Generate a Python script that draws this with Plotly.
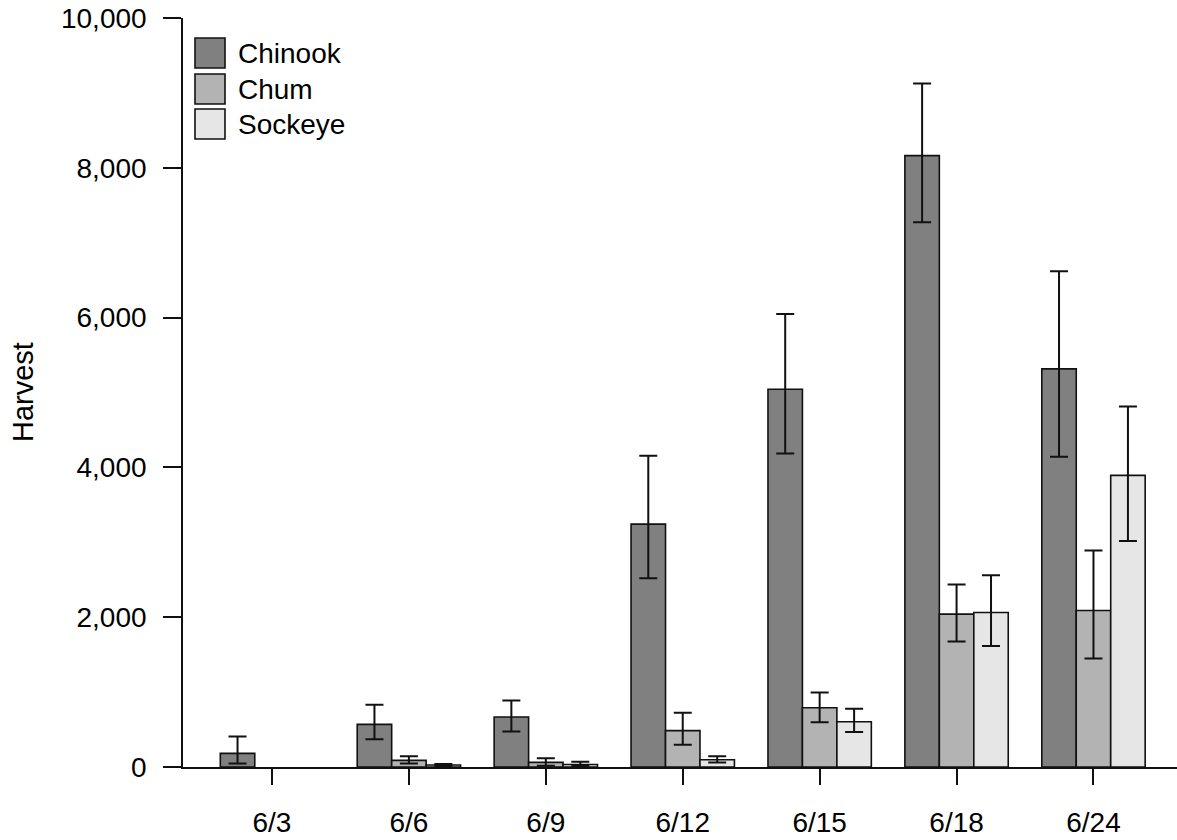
import plotly.graph_objects as go

# Harvest estimates by date with lower/upper bounds
dates = ["6/3", "6/6", "6/9", "6/12", "6/15", "6/18", "6/24"]

chinook = [182, 569, 667, 3242, 5043, 8163, 5315]
chinook_lo = [48, 369, 475, 2521, 4185, 7273, 4142]
chinook_hi = [408, 831, 889, 4157, 6048, 9126, 6620]

chum = [None, 89, 62, 486, 791, 2041, 2090]
chum_lo = [None, 48, 17, 297, 596, 1676, 1449]
chum_hi = [None, 142, 118, 724, 996, 2436, 2889]

sockeye = [None, 26, 33, 97, 604, 2063, 3894]
sockeye_lo = [None, 15, 12, 60, 467, 1614, 3018]
sockeye_hi = [None, 40, 71, 142, 778, 2561, 4814]

species = ["Chinook", "Chum", "Sockeye"]
fills = ["#808080", "#b3b3b3", "#e6e6e6"]

FONT = "Liberation Sans, Arial, sans-serif"
TICK_SIZE = 28

# plot area geometry (pixels)
W, H = 1177, 840
L, T, B, R = 183, 18, 73, 0
PW, PH = W - L - R, H - T - B


def px_x(p):
    return (p - L) / PW


def px_y(p):
    return (H - B - p) / PH


def err_up(v, hi):
    return [None if a is None else b - a for a, b in zip(v, hi)]


def err_down(v, lo):
    return [None if a is None else a - b for a, b in zip(v, lo)]


fig = go.Figure()
for name, vals, lo, hi, col in [
    ("Chinook", chinook, chinook_lo, chinook_hi, fills[0]),
    ("Chum", chum, chum_lo, chum_hi, fills[1]),
    ("Sockeye", sockeye, sockeye_lo, sockeye_hi, fills[2]),
]:
    fig.add_trace(go.Bar(
        name=name,
        x=list(range(len(dates))),
        y=vals,
        marker=dict(color=col, line=dict(color="#111111", width=1.6)),
        error_y=dict(
            type="data", symmetric=False,
            array=err_up(vals, hi), arrayminus=err_down(vals, lo),
            color="#111111", thickness=2, width=9,
        ),
        showlegend=False,
    ))

# legend drawn as boxes + labels
shapes = []
annotations = []
rows = [(38, 68, 53), (74, 104, 89), (109, 139, 124)]
for (y0, y1, yc), name, col in zip(rows, species, fills):
    shapes.append(dict(
        type="rect", xref="paper", yref="paper",
        x0=px_x(195), x1=px_x(225), y0=px_y(y1), y1=px_y(y0),
        fillcolor=col, line=dict(color="#111111", width=1.6),
    ))
    annotations.append(dict(
        xref="paper", yref="paper", x=px_x(236), y=px_y(yc),
        xanchor="left", yanchor="middle", showarrow=False,
        text=name, font=dict(family=FONT, size=28, color="#000000"),
    ))

# y-axis title
annotations.append(dict(
    xref="paper", yref="paper", x=0, y=px_y(392), xshift=23 - L,
    xanchor="center", yanchor="middle", showarrow=False, textangle=-90,
    text="Harvest", font=dict(family=FONT, size=29, color="#000000"),
))

fig.update_layout(
    template="none",
    width=W, height=H,
    margin=dict(l=L, r=R, t=T, b=B, pad=0, autoexpand=False),
    plot_bgcolor="white", paper_bgcolor="white",
    barmode="group", bargap=0.245, bargroupgap=0,
    shapes=shapes, annotations=annotations,
    font=dict(family=FONT, size=TICK_SIZE, color="#000000"),
    xaxis=dict(
        range=[-0.65, 6.61], tickmode="array",
        tickvals=list(range(len(dates))), ticktext=dates,
        automargin=False,
        showline=True, linecolor="#111111", linewidth=1.6,
        ticks="outside", ticklen=16, tickwidth=1.6, tickcolor="#111111",
        ticklabelstandoff=14, showgrid=False, zeroline=False,
        tickfont=dict(family=FONT, size=TICK_SIZE, color="#000000"),
    ),
    yaxis=dict(
        range=[0, 10000], tickmode="array",
        tickvals=[0, 2000, 4000, 6000, 8000, 10000], tickformat=",",
        automargin=False,
        showline=True, linecolor="#111111", linewidth=1.6,
        ticks="outside", ticklen=18, tickwidth=1.6, tickcolor="#111111",
        ticklabelstandoff=11, showgrid=False, zeroline=False,
        tickfont=dict(family=FONT, size=TICK_SIZE, color="#000000"),
    ),
)

fig.write_html("out.html")
